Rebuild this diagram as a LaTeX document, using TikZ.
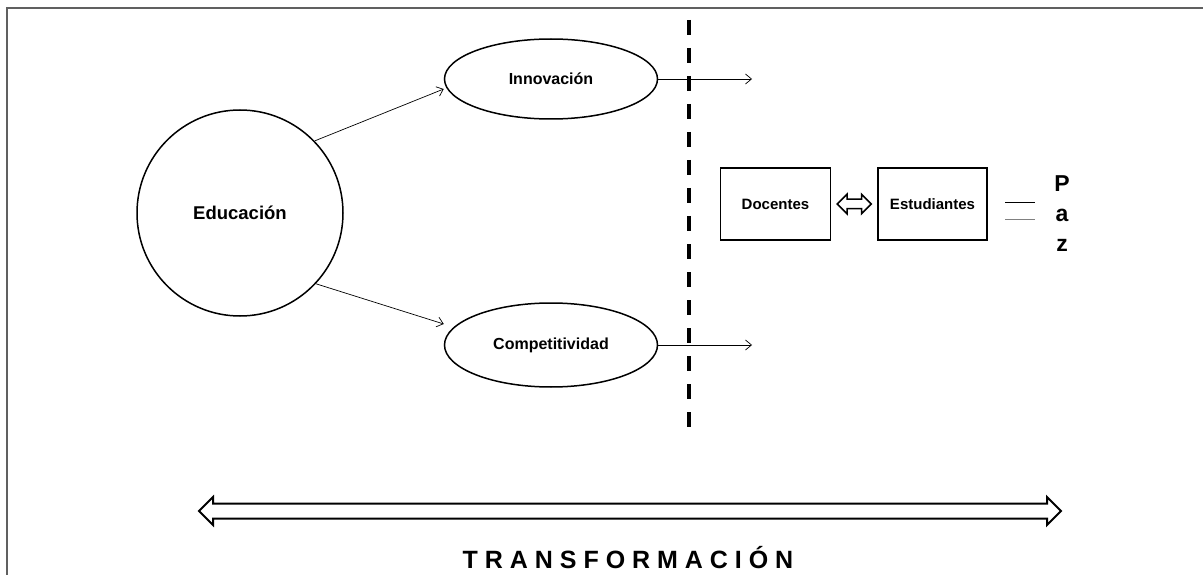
\documentclass[tikz,border=0pt]{standalone}
\usepackage{fontspec}
\setmainfont{Liberation Sans}
\usetikzlibrary{arrows.meta,calc,positioning,shapes.geometric,shapes.arrows}
\definecolor{framegray}{RGB}{96,96,96}
\tikzset{
	>={Straight Barb[length=6pt,width=10pt]},
	circulo/.style={
		circle,
		draw, line width=1.5pt,
		minimum size=206pt,
		inner sep=0pt,
		font=\bfseries\fontsize{18.5}{20}\selectfont},
	elipse/.style={
		ellipse,
		draw, line width=1.5pt,
		minimum width=213pt,
		minimum height=80pt,
		inner sep=0pt,
		font=\bfseries\fontsize{16}{18}\selectfont},
	caja/.style={
		rectangle,
		draw, line width=1.3pt,
		minimum width=110pt,
		minimum height=72pt,
		font=\bfseries\fontsize{15}{17}\selectfont},
	flecha/.style={draw, line width=0.7pt, ->},
	dobleflecha/.style={
		double arrow,
		draw, line width=2pt,
		inner xsep=0pt, inner ysep=6.5pt,
		minimum width=26pt,
		double arrow head extend=6.5pt,
		double arrow tip angle=90},
	dobleflechita/.style={
		double arrow,
		draw, line width=1.5pt,
		inner xsep=0pt, inner ysep=4pt,
		minimum width=18pt,
		minimum height=34pt,
		double arrow head extend=5pt,
		double arrow tip angle=90},
	corte/.style={line width=4pt, dash pattern=on 15pt off 13pt},
}

\begin{document}
\begin{tikzpicture}[x=1pt,y=-1pt]
\useasboundingbox (0,0) rectangle (1203,575);
% marco
\draw[framegray, line width=1.5pt] (7,575) -- (7,8) -- (1203,8);

\node[circulo] (edu) at (240,213) {Educación};
\node[elipse] (inno) at (551,79) {Innovación};
\node[elipse, minimum height=84pt] (comp) at (551,345) {Competitividad};

\draw[flecha] (edu.44) -- ([yshift=-10pt]inno.west);
\draw[flecha] (edu.-43) -- ([yshift=21pt]comp.west);

\coordinate (innofin) at (752,79);
\coordinate (compfin) at (752,345);
\draw[flecha] (inno.east) -- (innofin);
\draw[flecha] (comp.east) -- (compfin);

% linea de corte
\draw[corte] (689,20) -- (689,435);

\node[caja] (doc) at (775.5,204) {Docentes};
\node[caja, minimum width=109pt] (est) at (932.5,204) {Estudiantes};
\node[dobleflechita] (docest) at ($(doc.east)!.5!(est.west)$) {};

\draw[line width=0.8pt] (1005,202) -- (1035,202);
\draw[line width=0.8pt, gray] (1005,219) -- (1035,219);
\node[align=center, inner sep=0pt, font=\bfseries\fontsize{23}{30}\selectfont] (paz) at (1062,214) {P\\a\\z};

% transformacion
\node[dobleflecha, minimum height=862pt] (cambio) at (630,511) {};
\node[anchor=base, font=\bfseries\fontsize{25}{28}\selectfont] (transf) at (628,568) {T R A N S F O R M A C I Ó N};
\end{tikzpicture}
\end{document}
